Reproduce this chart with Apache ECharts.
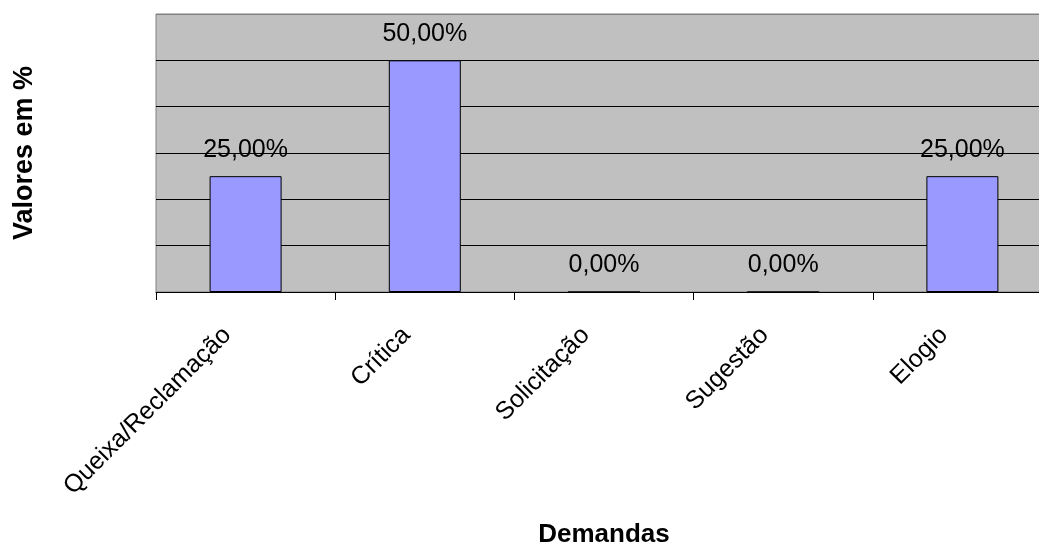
<!DOCTYPE html>
<html>
<head>
<meta charset="utf-8">
<script src="https://cdn.jsdelivr.net/npm/echarts@6/dist/echarts.min.js"></script>
<style>
  html, body { margin: 0; padding: 0; background: #ffffff; }
  #chart { width: 1039px; height: 542px; }
</style>
</head>
<body>
<div id="chart"></div>
<script>
// Demand categories and their share of the total (%)
const categories = ['Queixa/Reclamação', 'Crítica', 'Solicitação', 'Sugestão', 'Elogio'];
const percentValues = [25, 50, 0, 0, 25];

// Value axis range (percent), gridlines every 10
const axisMin = 0;
const axisMax = 60;
const axisStep = 10;

const FONT = "'Liberation Sans', Arial, Helvetica, sans-serif";

function formatPercent(v) {
  return v.toFixed(2).replace('.', ',') + '%';
}

const chart = echarts.init(document.getElementById('chart'), null, { renderer: 'canvas' });

chart.setOption({
  animation: false,
  backgroundColor: '#ffffff',
  grid: {
    left: 156,
    top: 14,
    right: -13,
    bottom: 250,
    containLabel: false,
    outerBoundsMode: 'none',
    show: true,
    backgroundColor: '#C0C0C0',
    borderColor: '#808080',
    borderWidth: 1
  },
  xAxis: {
    type: 'category',
    data: categories,
    boundaryGap: true,
    name: 'Demandas',
    nameLocation: 'middle',
    nameGap: 230,
    nameTextStyle: { fontFamily: FONT, fontSize: 26, fontWeight: 'bold', color: '#000' },
    axisLine: { show: true, lineStyle: { color: '#000', width: 1 } },
    axisTick: { show: true, length: 8, alignWithLabel: false, lineStyle: { color: '#000', width: 1 } },
    axisLabel: {
      interval: 0,
      rotate: 45,
      margin: 21,
      padding: [0, 26, 0, 0],
      fontFamily: FONT,
      fontSize: 25,
      color: '#000'
    },
    splitLine: { show: false }
  },
  yAxis: {
    type: 'value',
    min: axisMin,
    max: axisMax,
    interval: axisStep,
    name: 'Valores em %',
    nameLocation: 'middle',
    nameGap: 118,
    nameTextStyle: { fontFamily: FONT, fontSize: 27, fontWeight: 'bold', color: '#000' },
    axisLine: { show: false },
    axisTick: { show: false },
    axisLabel: { show: false },
    splitLine: {
      show: true,
      lineStyle: {
        color: ['#000000', '#000000', '#000000', '#000000', '#000000', '#000000', '#808080'],
        width: 1
      }
    }
  },
  series: [{
    type: 'bar',
    data: percentValues,
    barWidth: 72,
    itemStyle: { color: '#9999FF', borderColor: '#000000', borderWidth: 1 },
    label: {
      show: true,
      position: 'top',
      distance: 14,
      fontFamily: FONT,
      fontSize: 25,
      color: '#000',
      formatter: p => formatPercent(p.value)
    }
  }]
});
</script>
</body>
</html>
